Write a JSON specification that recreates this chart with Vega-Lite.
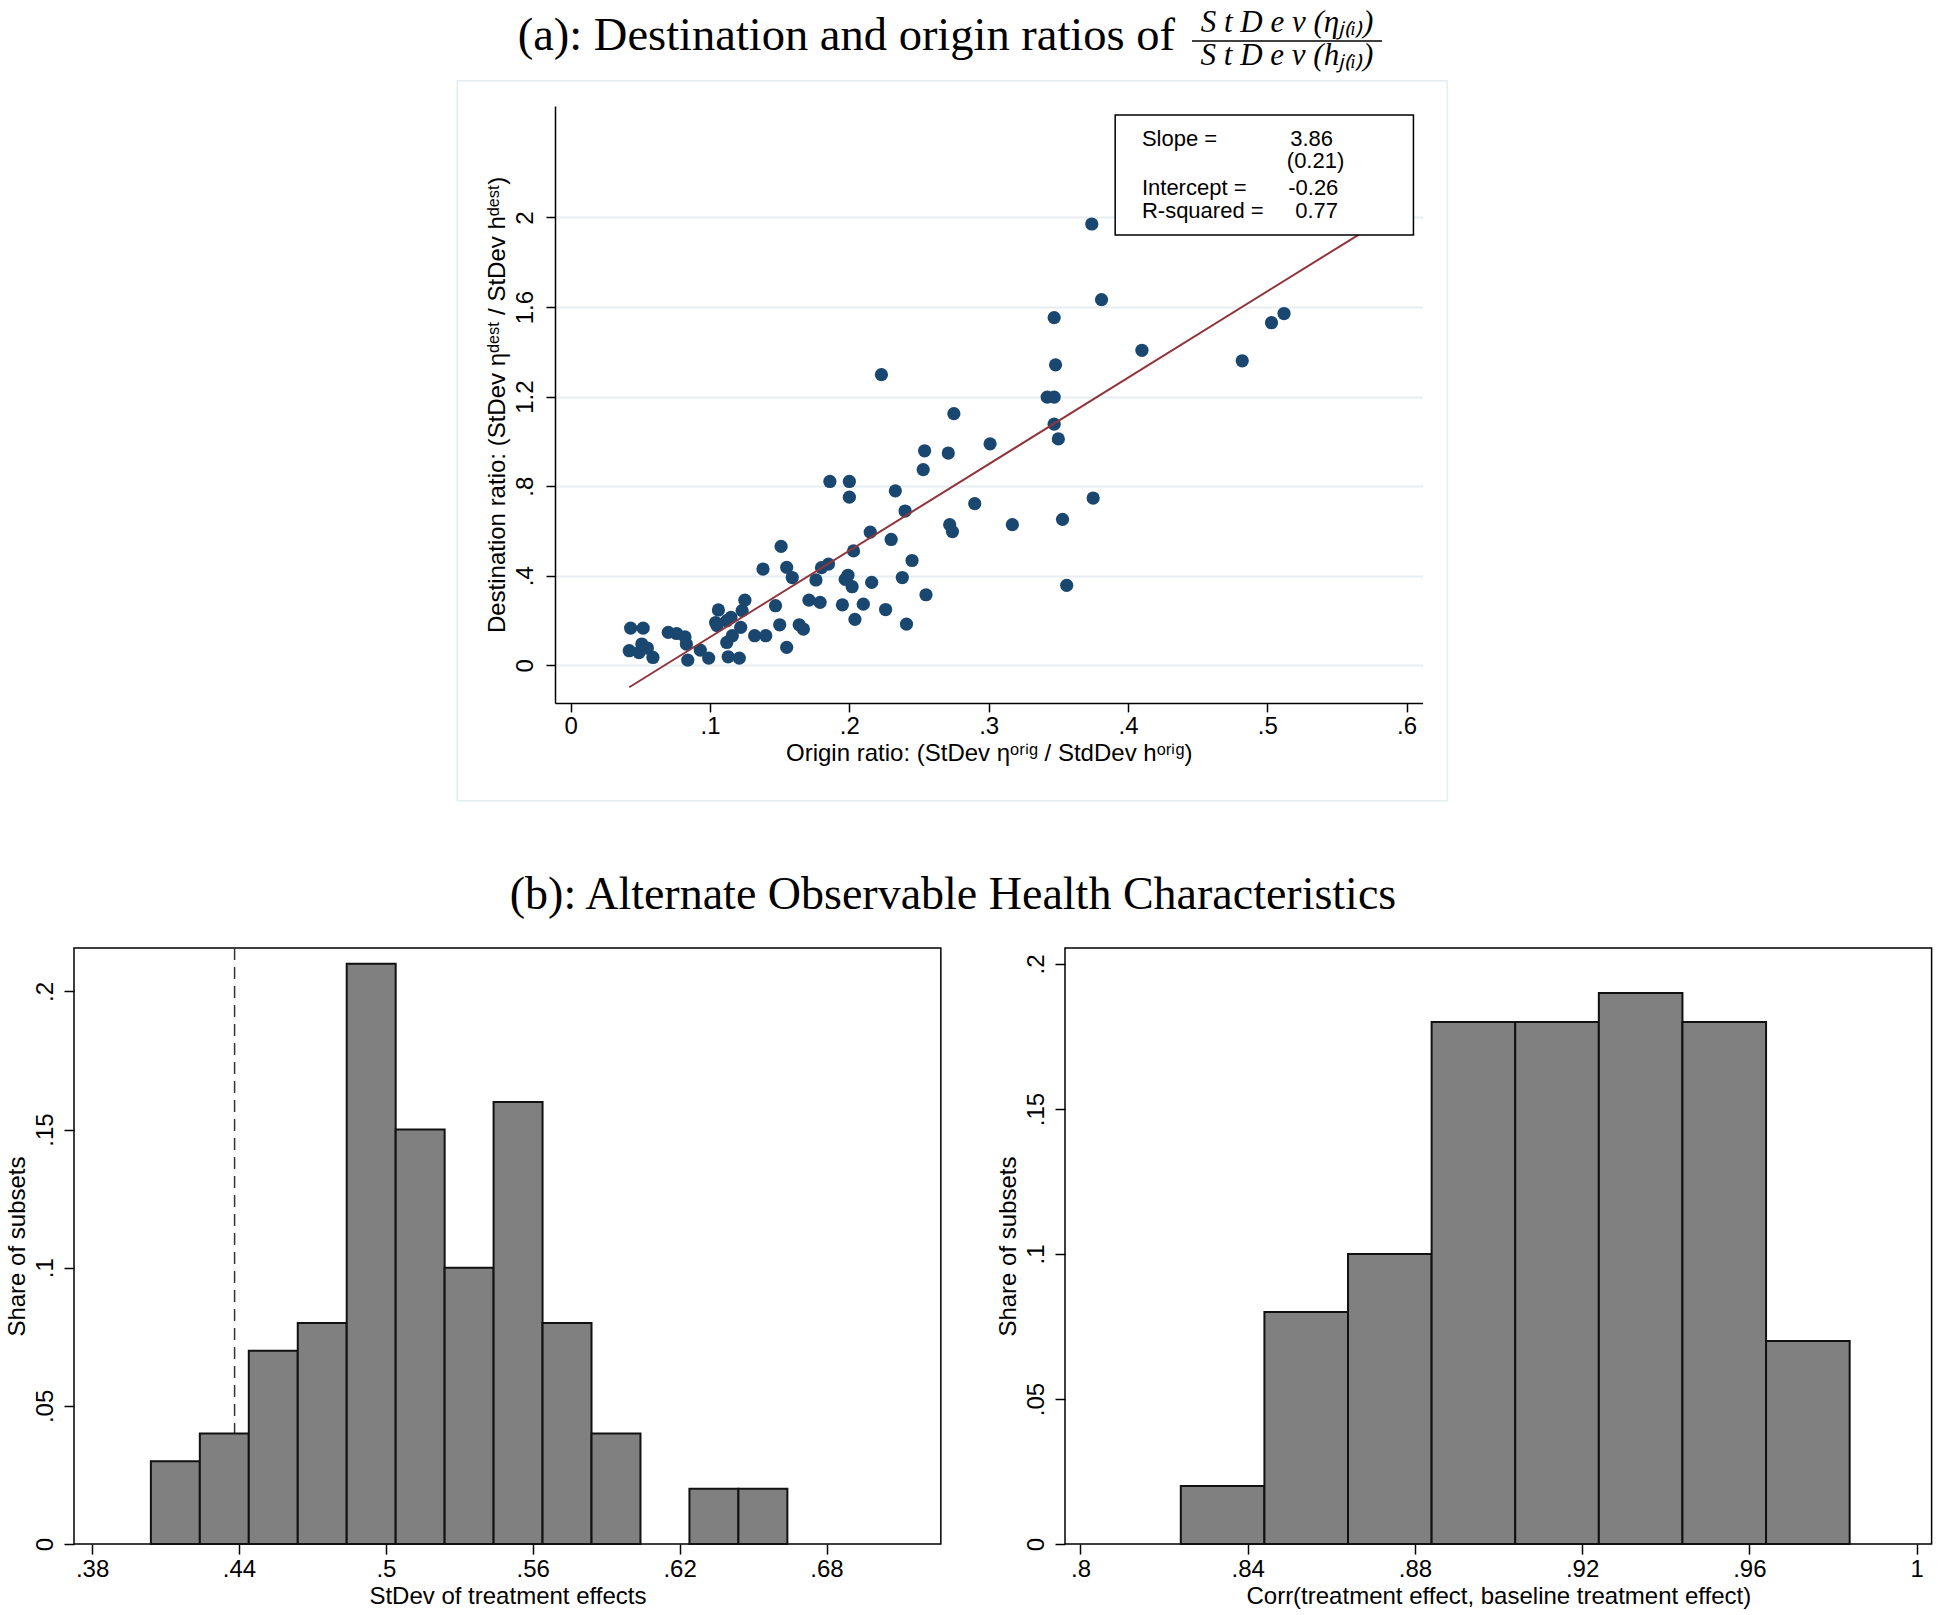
{
  "$schema": "https://vega.github.io/schema/vega-lite/v6.json",
  "background": "white",
  "padding": 0,
  "bounds": "flush",
  "spacing": 0,
  "config": {
    "font": "Liberation Sans",
    "view": {"stroke": null},
    "axis": {
      "labelFont": "Liberation Sans", "titleFont": "Liberation Sans",
      "labelColor": "black", "titleColor": "black", "titleFontWeight": "normal",
      "labelFontSize": 24, "titleFontSize": 24,
      "domainColor": "black", "tickColor": "black", "domainWidth": 1.5, "tickWidth": 1.5,
      "tickSize": 9, "grid": false, "labelFlush": false, "labelOverlap": false
    }
  },
  "vconcat": [
    {
      "width": 1939, "height": 105.3,
      "view": {"fill": "white", "stroke": null},
      "data": {"values": [{}]},
      "layer": [
        {"mark": {"type": "text", "text": "(a): Destination and origin ratios of", "font": "Liberation Serif", "fontSize": 46.5, "align": "right", "baseline": "alphabetic", "color": "black"},
         "encoding": {"x": {"datum": 1175, "type": "quantitative", "scale": {"domain": [0, 1939], "nice": false, "zero": false}, "axis": null},
                      "y": {"datum": 49.5, "type": "quantitative", "scale": {"domain": [0, 105.3], "nice": false, "zero": false, "reverse": true}, "axis": null}}},
        {"mark": {"type": "text", "text": "S t D e v (ηⱼ₍ᵢ₎)", "font": "Liberation Serif", "fontStyle": "italic", "fontSize": 31, "align": "center", "baseline": "alphabetic", "color": "black"},
         "encoding": {"x": {"datum": 1287, "type": "quantitative"}, "y": {"datum": 32, "type": "quantitative"}}},
        {"mark": {"type": "rule", "color": "black", "strokeWidth": 1.5},
         "encoding": {"x": {"datum": 1192, "type": "quantitative"}, "x2": {"datum": 1382}, "y": {"datum": 41, "type": "quantitative"}}},
        {"mark": {"type": "text", "text": "S t D e v (hⱼ₍ᵢ₎)", "font": "Liberation Serif", "fontStyle": "italic", "fontSize": 31, "align": "center", "baseline": "alphabetic", "color": "black"},
         "encoding": {"x": {"datum": 1287, "type": "quantitative"}, "y": {"datum": 64.5, "type": "quantitative"}}}
      ]
    },
    {
      "hconcat": [
        {"width": 554.8, "height": 596.9, "data": {"values": [{}]}, "mark": {"type": "text", "text": ""}, "encoding": {}},
        {
          "width": 867.5, "height": 596.9,
          "layer": [
            {"data": {"values": [{}]},
             "mark": {"type": "rect", "fill": null, "stroke": "#e3edf1", "strokeWidth": 1.5, "clip": false},
             "encoding": {"x": {"datum": -0.08146, "type": "quantitative"}, "x2": {"datum": 0.62908},
                          "y": {"datum": 2.6112, "type": "quantitative"}, "y2": {"datum": -0.6053}}},
            {"data": {"values": [
              {"origin":0.374,"dest":1.971},{"origin":0.381,"dest":1.633},{"origin":0.347,"dest":1.553},{"origin":0.503,"dest":1.530},{"origin":0.512,"dest":1.571},{"origin":0.410,"dest":1.407},{"origin":0.482,"dest":1.360},{"origin":0.348,"dest":1.342},{"origin":0.223,"dest":1.298},{"origin":0.342,"dest":1.198},{"origin":0.347,"dest":1.198},{"origin":0.275,"dest":1.124},{"origin":0.347,"dest":1.077},{"origin":0.350,"dest":1.011},{"origin":0.301,"dest":0.989},{"origin":0.254,"dest":0.958},{"origin":0.271,"dest":0.948},{"origin":0.253,"dest":0.874},{"origin":0.186,"dest":0.821},{"origin":0.200,"dest":0.821},{"origin":0.200,"dest":0.751},{"origin":0.233,"dest":0.779},{"origin":0.290,"dest":0.722},{"origin":0.375,"dest":0.747},{"origin":0.240,"dest":0.689},{"origin":0.317,"dest":0.628},{"origin":0.353,"dest":0.652},{"origin":0.272,"dest":0.628},{"origin":0.274,"dest":0.597},{"origin":0.215,"dest":0.595},{"origin":0.230,"dest":0.562},{"origin":0.151,"dest":0.531},{"origin":0.203,"dest":0.511},{"origin":0.245,"dest":0.468},{"origin":0.185,"dest":0.452},{"origin":0.180,"dest":0.436},{"origin":0.356,"dest":0.357},
              {"origin":0.043,"dest":0.166},{"origin":0.052,"dest":0.166},{"origin":0.042,"dest":0.065},{"origin":0.049,"dest":0.057},{"origin":0.051,"dest":0.095},{"origin":0.055,"dest":0.077},{"origin":0.059,"dest":0.035},{"origin":0.070,"dest":0.147},{"origin":0.076,"dest":0.142},{"origin":0.082,"dest":0.127},{"origin":0.083,"dest":0.095},{"origin":0.084,"dest":0.023},{"origin":0.093,"dest":0.068},{"origin":0.099,"dest":0.032},{"origin":0.106,"dest":0.247},{"origin":0.104,"dest":0.191},{"origin":0.105,"dest":0.177},{"origin":0.112,"dest":0.199},{"origin":0.115,"dest":0.214},{"origin":0.123,"dest":0.244},{"origin":0.125,"dest":0.291},{"origin":0.122,"dest":0.169},{"origin":0.116,"dest":0.132},{"origin":0.112,"dest":0.102},{"origin":0.113,"dest":0.038},{"origin":0.121,"dest":0.032},{"origin":0.132,"dest":0.132},{"origin":0.140,"dest":0.132},{"origin":0.147,"dest":0.266},{"origin":0.150,"dest":0.181},{"origin":0.155,"dest":0.080},{"origin":0.164,"dest":0.181},{"origin":0.167,"dest":0.162},{"origin":0.171,"dest":0.291},{"origin":0.179,"dest":0.281},{"origin":0.176,"dest":0.381},{"origin":0.159,"dest":0.392},{"origin":0.155,"dest":0.437},{"origin":0.138,"dest":0.430},{"origin":0.195,"dest":0.270},{"origin":0.204,"dest":0.205},{"origin":0.197,"dest":0.384},{"origin":0.199,"dest":0.402},{"origin":0.202,"dest":0.351},{"origin":0.210,"dest":0.273},{"origin":0.216,"dest":0.370},{"origin":0.226,"dest":0.249},{"origin":0.238,"dest":0.392},{"origin":0.241,"dest":0.184},{"origin":0.255,"dest":0.315}
            ]},
             "mark": {"type": "circle", "size": 175, "color": "#1a476f", "opacity": 1},
             "encoding": {
               "x": {"field": "origin", "type": "quantitative",
                     "scale": {"domain": [-0.0113, 0.6114], "nice": false, "zero": false},
                     "axis": {"values": [0, 0.1, 0.2, 0.3, 0.4, 0.5, 0.6], "labelExpr": "datum.value == 0 ? '0' : replace(format(datum.value, '.2~f'), '0.', '.')",
                              "title": "Origin ratio: (StDev ηᵒʳⁱᵍ / StdDev hᵒʳⁱᵍ)", "labelPadding": 3, "titlePadding": 3}},
               "y": {"field": "dest", "type": "quantitative",
                     "scale": {"domain": [-0.168, 2.498], "nice": false, "zero": false},
                     "axis": {"values": [0, 0.4, 0.8, 1.2, 1.6, 2], "labelExpr": "datum.value == 0 ? '0' : replace(format(datum.value, '.2~f'), '0.', '.')",
                              "grid": true, "gridColor": "#e6eef2", "gridWidth": 2,
                              "labelAngle": -90, "labelAlign": "center", "labelBaseline": "alphabetic", "labelPadding": 14,
                              "title": "Destination ratio: (StDev ηᵈᵉˢᵗ / StDev hᵈᵉˢᵗ)", "titlePadding": 4}}
             }},
            {"data": {"values": [{}]},
             "mark": {"type": "rule", "color": "#90353b", "strokeWidth": 2},
             "encoding": {"x": {"datum": 0.042, "type": "quantitative"}, "y": {"datum": -0.098, "type": "quantitative"}, "x2": {"datum": 0.566}, "y2": {"datum": 1.925}}},
            {"data": {"values": [{}]},
             "mark": {"type": "rect", "fill": "white", "stroke": "black", "strokeWidth": 1.5},
             "encoding": {"x": {"datum": 0.3908, "type": "quantitative"}, "x2": {"datum": 0.6049}, "y": {"datum": 2.458, "type": "quantitative"}, "y2": {"datum": 1.922}}},
            {"data": {"values": [{}]}, "mark": {"type": "text", "text": "Slope =", "fontSize": 22, "align": "left", "baseline": "alphabetic", "color": "black"},
             "encoding": {"x": {"datum": 0.410, "type": "quantitative"}, "y": {"datum": 2.3176, "type": "quantitative"}}},
            {"data": {"values": [{}]}, "mark": {"type": "text", "text": "3.86", "fontSize": 22, "align": "left", "baseline": "alphabetic", "color": "black"},
             "encoding": {"x": {"datum": 0.5164, "type": "quantitative"}, "y": {"datum": 2.3176, "type": "quantitative"}}},
            {"data": {"values": [{}]}, "mark": {"type": "text", "text": "(0.21)", "fontSize": 22, "align": "left", "baseline": "alphabetic", "color": "black"},
             "encoding": {"x": {"datum": 0.514, "type": "quantitative"}, "y": {"datum": 2.2225, "type": "quantitative"}}},
            {"data": {"values": [{}]}, "mark": {"type": "text", "text": "Intercept =", "fontSize": 22, "align": "left", "baseline": "alphabetic", "color": "black"},
             "encoding": {"x": {"datum": 0.410, "type": "quantitative"}, "y": {"datum": 2.1019, "type": "quantitative"}}},
            {"data": {"values": [{}]}, "mark": {"type": "text", "text": "-0.26", "fontSize": 22, "align": "left", "baseline": "alphabetic", "color": "black"},
             "encoding": {"x": {"datum": 0.515, "type": "quantitative"}, "y": {"datum": 2.1019, "type": "quantitative"}}},
            {"data": {"values": [{}]}, "mark": {"type": "text", "text": "R-squared =", "fontSize": 22, "align": "left", "baseline": "alphabetic", "color": "black"},
             "encoding": {"x": {"datum": 0.410, "type": "quantitative"}, "y": {"datum": 1.9969, "type": "quantitative"}}},
            {"data": {"values": [{}]}, "mark": {"type": "text", "text": "0.77", "fontSize": 22, "align": "left", "baseline": "alphabetic", "color": "black"},
             "encoding": {"x": {"datum": 0.520, "type": "quantitative"}, "y": {"datum": 1.9969, "type": "quantitative"}}}
          ]
        }
      ],
      "spacing": 0,
      "bounds": "flush"
    },
    {
      "width": 1939, "height": 841.4,
      "data": {"values": [{}]},
      "mark": {"type": "text", "text": "(b): Alternate Observable Health Characteristics", "font": "Liberation Serif", "fontSize": 46, "align": "center", "baseline": "alphabetic", "color": "black"},
      "encoding": {"x": {"datum": 953, "type": "quantitative", "scale": {"domain": [0, 1939], "nice": false, "zero": false}, "axis": null},
                   "y": {"datum": 908, "type": "quantitative", "scale": {"domain": [105.3, 946.7], "nice": false, "zero": false, "reverse": true}, "axis": null}}
    },
    {
      "hconcat": [
        {"width": 73.75, "height": 596.1, "data": {"values": [{}]}, "mark": {"type": "text", "text": ""}, "encoding": {}},
        {
          "width": 866.85, "height": 596.1,
          "view": {"stroke": "black", "strokeWidth": 1.5},
          "layer": [
            {"data": {"values": [{}]},
             "mark": {"type": "rule", "strokeDash": [12, 7], "color": "#333333", "strokeWidth": 1.5},
             "encoding": {"x": {"datum": 0.4382, "type": "quantitative"}}},
            {"data": {"values": [
              {"lo":0.404,"hi":0.424,"share":0.03},{"lo":0.424,"hi":0.444,"share":0.04},{"lo":0.444,"hi":0.464,"share":0.07},{"lo":0.464,"hi":0.484,"share":0.08},{"lo":0.484,"hi":0.504,"share":0.21},{"lo":0.504,"hi":0.524,"share":0.15},{"lo":0.524,"hi":0.544,"share":0.10},{"lo":0.544,"hi":0.564,"share":0.16},{"lo":0.564,"hi":0.584,"share":0.08},{"lo":0.584,"hi":0.604,"share":0.04},{"lo":0.624,"hi":0.644,"share":0.02},{"lo":0.644,"hi":0.664,"share":0.02}
             ]},
             "mark": {"type": "rect", "fill": "#808080", "stroke": "#111111", "strokeWidth": 2},
             "encoding": {
               "x": {"field": "lo", "type": "quantitative", "scale": {"domain": [0.3726, 0.7267], "nice": false, "zero": false},
                     "axis": {"values": [0.38, 0.44, 0.5, 0.56, 0.62, 0.68], "domain": false, "labelExpr": "datum.value == 0 ? '0' : replace(format(datum.value, '.2~f'), '0.', '.')",
                              "title": "StDev of treatment effects", "labelPadding": 3, "titlePadding": 3, "tickSize": 10}},
               "x2": {"field": "hi"},
               "y": {"field": "share", "type": "quantitative", "scale": {"domain": [0, 0.2157], "nice": false, "zero": false},
                     "axis": {"values": [0, 0.05, 0.1, 0.15, 0.2], "domain": false, "labelExpr": "datum.value == 0 ? '0' : replace(format(datum.value, '.2~f'), '0.', '.')",
                              "labelAngle": -90, "labelAlign": "center", "labelBaseline": "alphabetic", "labelPadding": 12, "tickSize": 10,
                              "title": "Share of subsets", "titlePadding": 4}},
               "y2": {"datum": 0}
             }}
          ]
        },
        {"width": 123.8, "height": 596.1, "data": {"values": [{}]}, "mark": {"type": "text", "text": ""}, "encoding": {}},
        {
          "width": 866.6, "height": 596.1,
          "view": {"stroke": "black", "strokeWidth": 1.5},
          "data": {"values": [
            {"lo":0.824,"hi":0.844,"share":0.02},{"lo":0.844,"hi":0.864,"share":0.08},{"lo":0.864,"hi":0.884,"share":0.10},{"lo":0.884,"hi":0.904,"share":0.18},{"lo":0.904,"hi":0.924,"share":0.18},{"lo":0.924,"hi":0.944,"share":0.19},{"lo":0.944,"hi":0.964,"share":0.18},{"lo":0.964,"hi":0.984,"share":0.07}
          ]},
          "mark": {"type": "rect", "fill": "#808080", "stroke": "#111111", "strokeWidth": 2},
          "encoding": {
            "x": {"field": "lo", "type": "quantitative", "scale": {"domain": [0.7963, 1.0036], "nice": false, "zero": false},
                  "axis": {"values": [0.8, 0.84, 0.88, 0.92, 0.96, 1], "domain": false, "labelExpr": "datum.value == 0 ? '0' : replace(format(datum.value, '.2~f'), '0.', '.')",
                           "title": "Corr(treatment effect, baseline treatment effect)", "labelPadding": 3, "titlePadding": 3, "tickSize": 10}},
            "x2": {"field": "hi"},
            "y": {"field": "share", "type": "quantitative", "scale": {"domain": [0, 0.2055], "nice": false, "zero": false},
                  "axis": {"values": [0, 0.05, 0.1, 0.15, 0.2], "domain": false, "labelExpr": "datum.value == 0 ? '0' : replace(format(datum.value, '.2~f'), '0.', '.')",
                           "labelAngle": -90, "labelAlign": "center", "labelBaseline": "alphabetic", "labelPadding": 12, "tickSize": 10,
                           "title": "Share of subsets", "titlePadding": 4}},
            "y2": {"datum": 0}
          }
        }
      ],
      "spacing": 0,
      "bounds": "flush"
    }
  ]
}
